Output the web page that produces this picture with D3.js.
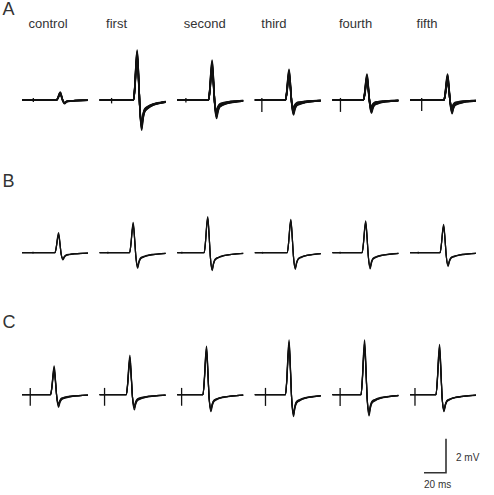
<!DOCTYPE html>
<html>
<head>
<meta charset="utf-8">
<script src="https://cdn.jsdelivr.net/npm/d3@7"></script>
<style>
  body { margin: 0; background: #fff; }
  text { font-family: "Liberation Sans", Arial, sans-serif; fill: #333; }
  .sweep { fill: none; stroke: #111; stroke-width: 1.2; stroke-linejoin: round; }
  .row-A .sweep { stroke-width: 1.6; }
  .artifact { stroke: #111; stroke-width: 1.3; }
  .scalebar { fill: none; stroke: #333; stroke-width: 1.6; }
</style>
</head>
<body>
<svg id="fig" width="494" height="495"></svg>
<script>
const conditions = ["control", "first", "second", "third", "fourth", "fifth"];
const panels = ["A", "B", "C"];

// stimulus artefact time (ms from sweep start)
const artA = [10.3, 10.9, 7.9, 6.4, 7.3, 10.6];
const artB = [10, 7.5, 4.2, 7, 7, 7.5];
const artC = [7.5, 4.5, 4, 9.7, 7, 4.5];
// artefact extent above / below baseline (mV)
const artUp = [0.12, 0.05, 0.4];
const artDownA = [0.12, 0.2, 0.15, 0.7, 0.7, 0.65];
const artDownB = [0.05, 0.05, 0.05, 0.05, 0.05, 0.05];
const artDownC = [0.65, 0.65, 0.65, 0.66, 0.66, 0.65];

// spike onset (ms)
const onsetA = [31.5, 30.9, 28.5, 27.9, 28.2, 30.9];
const onsetB = [30, 27.3, 24.5, 29.5, 27, 27.3];
const onsetC = [26, 24.3, 23.4, 27.9, 26, 23.6];

// peak / trough amplitude of each sweep (mV)
const peaksA = [
  [0.47, 0.44, 0.4, 0.36, 0.33],
  [2.94, 2.85, 2.75, 2.62, 2.5, 2.4],
  [2.35, 2.25, 2.1, 1.95, 1.8, 1.7],
  [1.8, 1.72, 1.62, 1.5, 1.4, 1.3],
  [1.53, 1.45, 1.35, 1.25, 1.15, 1.05],
  [1.53, 1.45, 1.36, 1.25, 1.15, 1.05]
];
const troughsA = [
  [0.22, 0.2, 0.18, 0.16, 0.15],
  [1.78, 1.7, 1.6, 1.5, 1.42, 1.35],
  [1.08, 1.0, 0.9, 0.8, 0.7, 0.6],
  [0.88, 0.8, 0.7, 0.6, 0.5, 0.42],
  [0.78, 0.7, 0.6, 0.5, 0.42, 0.36],
  [0.8, 0.72, 0.62, 0.52, 0.44, 0.38]
];
const peaksB = [
  [1.18, 1.1, 1.02], [1.78, 1.7, 1.6], [2.12, 2.05, 1.98],
  [1.96, 1.9, 1.82], [1.88, 1.8, 1.7], [1.67, 1.6, 1.52]
];
const troughsB = [
  [0.43, 0.38, 0.34], [0.92, 0.85, 0.75], [1.06, 1.0, 0.95],
  [0.98, 0.92, 0.86], [0.96, 0.88, 0.8], [0.82, 0.76, 0.7]
];
const peaksC = [
  [1.69, 1.6, 1.45, 1.3], [2.33, 2.2, 2.05, 1.85], [2.86, 2.75, 2.6, 2.4],
  [3.22, 3.1, 2.9, 2.7], [3.22, 3.05, 2.85, 2.65], [2.96, 2.85, 2.65, 2.45]
];
const troughsC = [
  [0.74, 0.65, 0.55, 0.5], [0.9, 0.8, 0.7, 0.62], [1.0, 0.92, 0.85, 0.8],
  [1.29, 1.2, 1.1, 1.0], [1.25, 1.15, 1.05, 0.95], [1.0, 0.95, 0.9, 0.85]
];

// spike waveform: time after onset (ms) and fraction of peak (+) / trough (-)
const shapeT = [-1, 0, 1.2, 2.4, 3.3, 4.6, 5.6, 7.3, 8.5, 10, 13, 18, 25, 40];
const shapeV = [0, 0, 0.3, 0.8, 1, 0.45, -0.2, -1, -0.65, -0.4, -0.28, -0.17, -0.1, -0.02];

const rowData = [
  {art: artA, artDown: artDownA, onset: onsetA, peaks: peaksA, troughs: troughsA},
  {art: artB, artDown: artDownB, onset: onsetB, peaks: peaksB, troughs: troughsB},
  {art: artC, artDown: artDownC, onset: onsetC, peaks: peaksC, troughs: troughsC}
];

const svg = d3.select("svg#fig");

// layout
const col = d3.scaleBand().domain(conditions).range([22, 476]).paddingInner(0.15).paddingOuter(0);
const row = d3.scaleOrdinal().domain(panels).range([100, 252.7, 394.7]);
const letterY = d3.scaleOrdinal().domain(panels).range([14.5, 186.7, 328.3]);
const t = d3.scaleLinear().domain([0, 60]).range([0, col.bandwidth()]);
const v = d3.scaleLinear().domain([-1, 1]).range([17, -17]);

const line = d3.line()
  .x(d => t(d[0]))
  .y(d => v(d[1]))
  .curve(d3.curveMonotoneX);

svg.append("defs").append("clipPath").attr("id", "clip")
  .append("rect").attr("x", -1).attr("y", -80).attr("width", col.bandwidth() + 1).attr("height", 160);

function sweepPoints(onset, peak, trough) {
  const pts = [[0, 0]];
  shapeT.forEach((s, i) => {
    const f = shapeV[i];
    pts.push([onset + s, f >= 0 ? f * peak : f * trough]);
  });
  return pts;
}

panels.forEach((p, r) => {
  const rd = rowData[r];
  svg.append("text")
    .attr("x", 2.5).attr("y", letterY(p))
    .attr("font-size", 18)
    .text(p);

  conditions.forEach((c, i) => {
    const g = svg.append("g")
      .attr("class", "row-" + p)
      .attr("transform", `translate(${col(c)},${row(p)})`);
    const traces = g.append("g").attr("clip-path", "url(#clip)");

    const sweeps = rd.peaks[i].map((pk, k) => sweepPoints(rd.onset[i], pk, rd.troughs[i][k]));
    traces.selectAll("path.sweep")
      .data(sweeps)
      .enter()
      .append("path")
      .attr("class", "sweep")
      .attr("d", line);

    g.append("line")
      .attr("class", "artifact")
      .attr("x1", t(rd.art[i])).attr("x2", t(rd.art[i]))
      .attr("y1", v(artUp[r])).attr("y2", v(-rd.artDown[i]));
  });
});

// condition labels above row A
svg.selectAll("text.cond")
  .data(conditions)
  .enter()
  .append("text")
  .attr("class", "cond")
  .attr("x", d => col(d) + 6.5)
  .attr("y", 28.3)
  .attr("font-size", 13)
  .text(d => d);

// scale bar: 20 ms, 2 mV
const sbX = 446, sbY = 472.7;
svg.append("path")
  .attr("class", "scalebar")
  .attr("d", `M${sbX - (t(20) - t(0))},${sbY}H${sbX}V${sbY - (v(0) - v(2))}`);
svg.append("text").attr("x", 456).attr("y", 461).attr("font-size", 10).text("2 mV");
svg.append("text").attr("x", 424).attr("y", 488).attr("font-size", 10).text("20 ms");
</script>
</body>
</html>
